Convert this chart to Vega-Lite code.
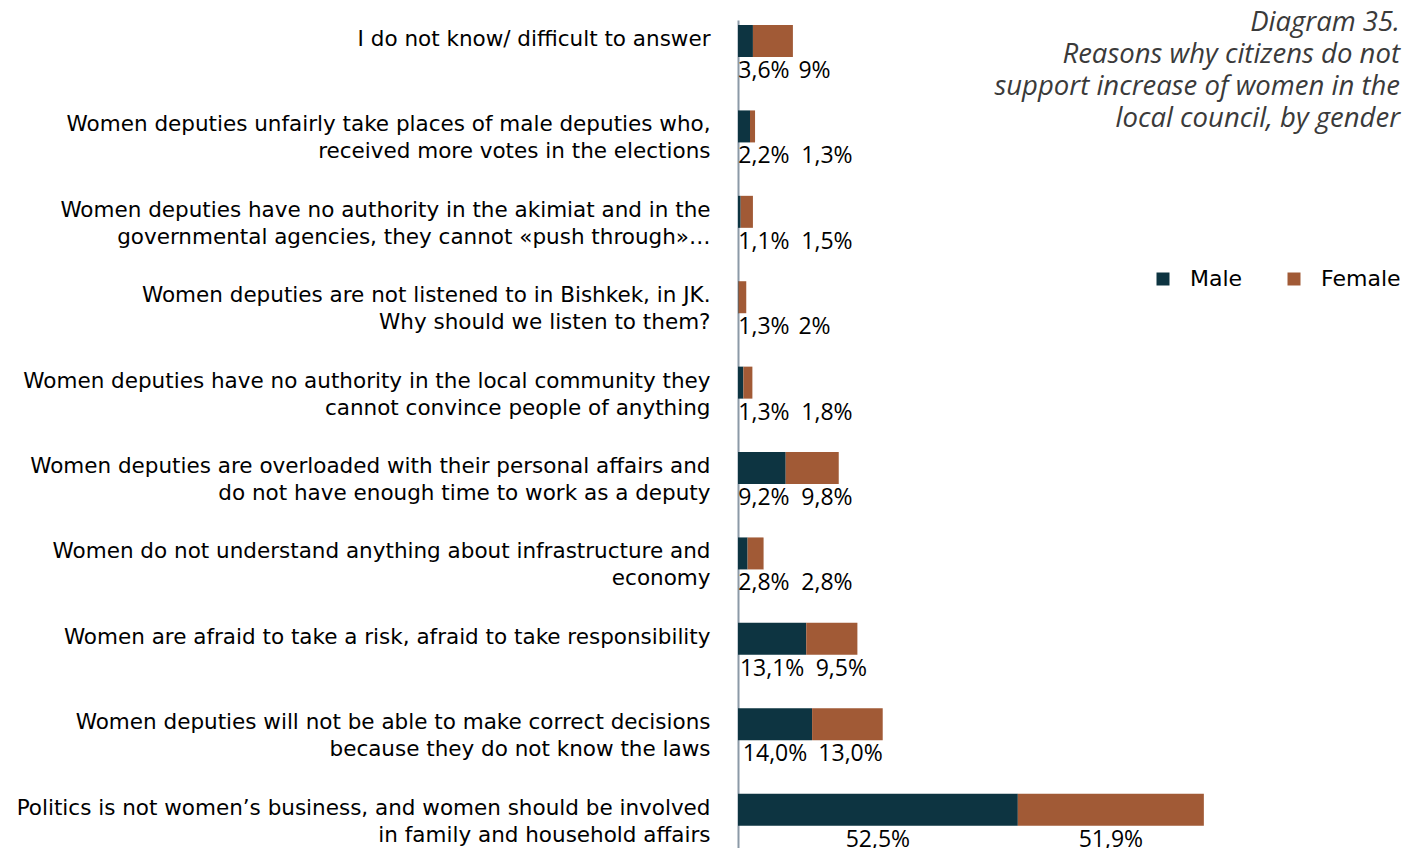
{
  "$schema": "https://vega.github.io/schema/vega-lite/v6.json",
  "autosize": "none",
  "width": 662,
  "height": 832,
  "padding": {"left": 738, "top": 20, "right": 2, "bottom": 0},
  "background": "white",
  "title": {
    "text": ["Diagram 35.", "Reasons why citizens do not", "support increase of women in the", "local council, by gender"],
    "orient": "top",
    "anchor": "end",
    "frame": "group",
    "font": "Open Sans",
    "fontSize": 27.5,
    "fontStyle": "italic",
    "fontWeight": "normal",
    "color": "#3a3a3a",
    "lineHeight": 32,
    "dy": 116
  },
  "config": {
    "view": {"stroke": null},
    "font": "Open Sans",
    "text": {"font": "Open Sans"}
  },
  "data": {
    "values": [
      {"reason": "I do not know/ difficult to answer", "Male": 2.8, "Female": 7.5, "maleLabel": "3,6%", "femaleLabel": "9%"},
      {"reason": "Women deputies unfairly take places of male deputies who,|received more votes in the elections", "Male": 2.25, "Female": 0.95, "maleLabel": "2,2%", "femaleLabel": "1,3%"},
      {"reason": "Women deputies have no authority in the akimiat and in the|governmental agencies, they cannot «push through»…", "Male": 0.5, "Female": 2.3, "maleLabel": "1,1%", "femaleLabel": "1,5%"},
      {"reason": "Women deputies are not listened to in Bishkek, in JK.|Why should we listen to them?", "Male": 0.1, "Female": 1.45, "maleLabel": "1,3%", "femaleLabel": "2%"},
      {"reason": "Women deputies have no authority in the local community they|cannot convince people of anything", "Male": 1.0, "Female": 1.7, "maleLabel": "1,3%", "femaleLabel": "1,8%"},
      {"reason": "Women deputies are overloaded with their personal affairs and|do not have enough time to work as a deputy", "Male": 8.95, "Female": 9.95, "maleLabel": "9,2%", "femaleLabel": "9,8%"},
      {"reason": "Women do not understand anything about infrastructure and|economy", "Male": 1.8, "Female": 3.0, "maleLabel": "2,8%", "femaleLabel": "2,8%"},
      {"reason": "Women are afraid to take a risk, afraid to take responsibility", "Male": 12.8, "Female": 9.6, "maleLabel": "13,1%", "femaleLabel": "9,5%"},
      {"reason": "Women deputies will not be able to make correct decisions|because they do not know the laws", "Male": 13.9, "Female": 13.25, "maleLabel": "14,0%", "femaleLabel": "13,0%"},
      {"reason": "Politics is not women’s business, and women should be involved|in family and household affairs", "Male": 52.5, "Female": 34.9, "maleLabel": "52,5%", "femaleLabel": "51,9%"}
    ]
  },
  "encoding": {
    "y": {
      "field": "reason",
      "type": "nominal",
      "sort": null,
      "scale": {"paddingInner": 0.6253, "paddingOuter": 0.1837, "align": 0.16},
      "axis": {
        "title": null,
        "labelExpr": "split(datum.label, '|')",
        "labelFont": "DejaVu Sans",
        "labelFontSize": 21.5,
        "labelColor": "#000000",
        "labelLineHeight": 27,
        "labelBaseline": "top",
        "labelOffset": -12,
        "labelPadding": 28,
        "labelLimit": 800,
        "ticks": false,
        "domain": true,
        "domainColor": "#8c9aa7",
        "domainWidth": 2,
        "grid": false
      }
    }
  },
  "layer": [
    {
      "transform": [{"fold": ["Male", "Female"], "as": ["gender", "value"]}],
      "mark": {"type": "bar"},
      "encoding": {
        "x": {"field": "value", "type": "quantitative", "stack": "zero", "scale": {"domain": [0, 124.2], "nice": false}, "axis": null},
        "color": {
          "field": "gender",
          "type": "nominal",
          "scale": {"domain": ["Male", "Female"], "range": ["#0d3441", "#a15a36"]},
          "legend": {
            "title": null,
            "orient": "none",
            "legendX": 414,
            "legendY": 248,
            "direction": "horizontal",
            "symbolType": "square",
            "symbolSize": 169,
            "symbolStrokeWidth": 0,
            "labelFont": "DejaVu Sans",
            "labelFontSize": 22,
            "labelColor": "#000000",
            "labelOffset": 16,
            "columnPadding": 40
          }
        },
        "order": {"field": "gender", "sort": "descending"}
      }
    },
    {
      "transform": [
        {"calculate": "max(datum.Male / 2, (12.5 * length(datum.maleLabel) + 2) / 2 / 5.33)", "as": "mx"}
      ],
      "mark": {"type": "text", "align": "center", "baseline": "middle", "dy": 30, "fontSize": 23, "font": "Open Sans", "color": "#000000"},
      "encoding": {
        "x": {"field": "mx", "type": "quantitative", "scale": {"domain": [0, 124.2], "nice": false}, "axis": null},
        "text": {"field": "maleLabel"}
      }
    },
    {
      "transform": [
        {"calculate": "max(datum.Male / 2, (12.5 * length(datum.maleLabel) + 2) / 2 / 5.33)", "as": "mx"},
        {"calculate": "max(datum.Male + datum.Female / 2, datum.mx + (12.5 * length(datum.maleLabel) + 2) / 2 / 5.33 + 11 / 5.33 + (12.5 * length(datum.femaleLabel) + 2) / 2 / 5.33)", "as": "fx"}
      ],
      "mark": {"type": "text", "align": "center", "baseline": "middle", "dy": 30, "fontSize": 23, "font": "Open Sans", "color": "#000000"},
      "encoding": {
        "x": {"field": "fx", "type": "quantitative", "scale": {"domain": [0, 124.2], "nice": false}, "axis": null},
        "text": {"field": "femaleLabel"}
      }
    }
  ]
}
